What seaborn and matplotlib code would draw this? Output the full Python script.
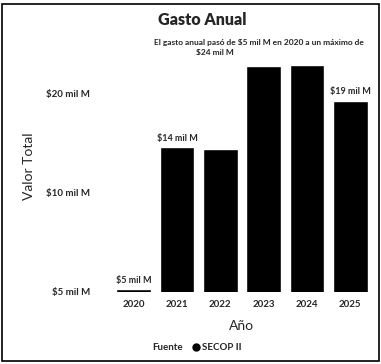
import matplotlib
matplotlib.use("Agg")
import matplotlib.pyplot as plt
from matplotlib.lines import Line2D
from matplotlib.patches import Rectangle
from matplotlib.ticker import FixedLocator, NullLocator, FuncFormatter
import seaborn as sns

# data (billions of pesos, "mil M")
years = ["2020", "2021", "2022", "2023", "2024", "2025"]
totals = [5.1, 13.7, 13.6, 24.2, 24.4, 19.0]
bar_texts = ["$5 mil M", "$14 mil M", "", "", "", "$19 mil M"]
y_ticks = [5, 10, 20]

sns.set_theme(style="white")
plt.rcParams["font.family"] = ["Lato", "DejaVu Sans"]

fig = plt.figure(figsize=(3.81, 3.64), dpi=100)
ax = fig.add_axes([0.294, 0.198, 0.682, 0.692])

sns.barplot(x=years, y=totals, color="black", saturation=1, width=0.8, ax=ax)
ax.set_yscale("log")
ax.set_ylim(5, 29)

# tick labels
ax.yaxis.set_major_locator(FixedLocator(y_ticks))
ax.yaxis.set_minor_locator(NullLocator())
ax.yaxis.set_major_formatter(FuncFormatter(lambda v, p: f"${v:g} mil M"))
ax.tick_params(axis="y", length=0, pad=16, labelsize=7)
ax.tick_params(axis="x", length=0, pad=6, labelsize=7)
for lab in ax.get_xticklabels() + ax.get_yticklabels():
    lab.set_fontweight("bold")

ax.bar_label(ax.containers[0], labels=bar_texts, padding=3,
             fontsize=6.5, fontweight="bold")

ax.set_xlabel("Año", fontsize=10, labelpad=8)
ax.set_ylabel("Valor Total", fontsize=10, labelpad=8)
sns.despine(ax=ax, left=True, bottom=True)

fig.text(0.53, 0.945, "Gasto Anual", ha="center", va="center",
         fontsize=11.5, fontweight="heavy")
# subtitle, wrapped by hand as in the reference
fig.text(0.68, 0.882, "El gasto anual pasó de $5 mil M en 2020 a un máximo de",
         ha="center", va="center", fontsize=6, fontweight="bold")
fig.text(0.565, 0.857, "$24 mil M",
         ha="center", va="center", fontsize=6, fontweight="bold")

# source legend
fig.text(0.48, 0.044, "Fuente", ha="right", va="center",
         fontsize=7, fontweight="bold")
src = Line2D([], [], marker="o", color="black", ls="none", markersize=5,
             label="SECOP II")
fig.legend(handles=[src], loc="center left", bbox_to_anchor=(0.475, 0.044),
           frameon=False, handletextpad=0.1, handlelength=1.2,
           prop={"weight": "bold", "size": 7})

fig.patches.append(Rectangle((0.005, 0.008), 0.99, 0.98, transform=fig.transFigure,
                             fill=False, edgecolor="black", linewidth=1.2))

fig.savefig("out.png", dpi=100)
